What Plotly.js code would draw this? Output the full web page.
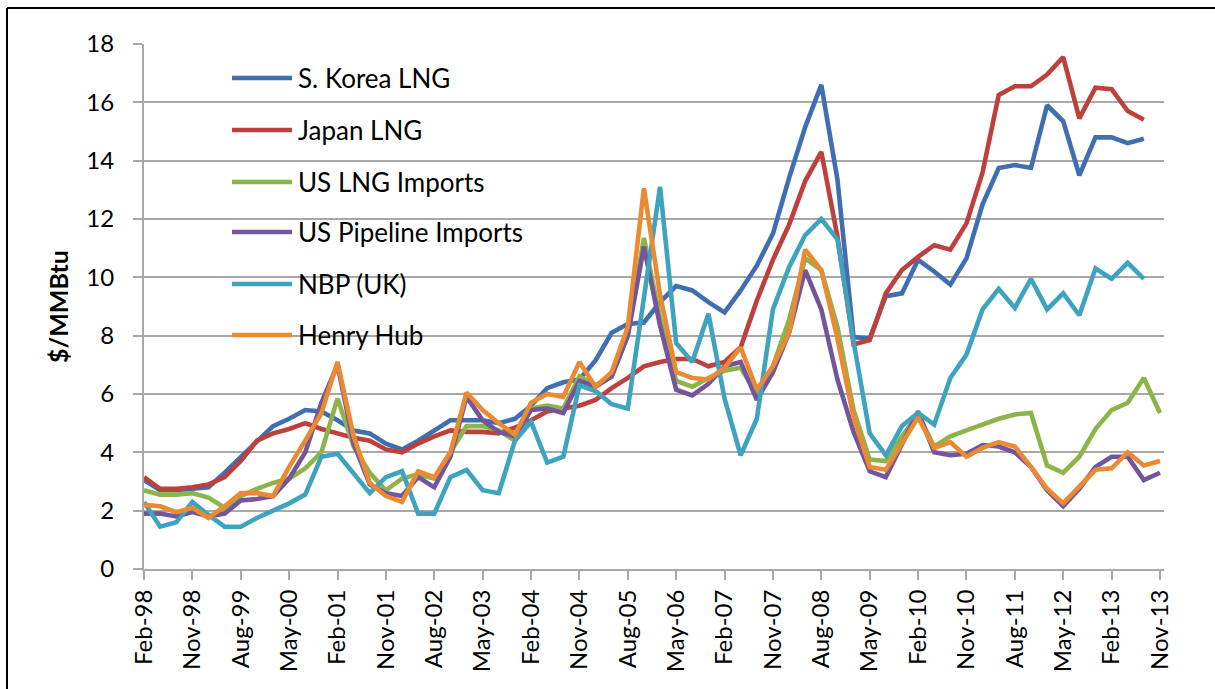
<!DOCTYPE html>
<html>
<head>
<meta charset="utf-8">
<script src="https://cdn.plot.ly/plotly-3.0.1.min.js"></script>
<style>
  html, body { margin: 0; padding: 0; background: #ffffff; }
  #chart { width: 1215px; height: 689px; }
</style>
</head>
<body>
<div id="chart"></div>
<script>
// ---- Data (quarterly, $/MMBtu) ----
const quarters = ["Feb-98","May-98","Aug-98","Nov-98","Feb-99","May-99","Aug-99","Nov-99",
  "Feb-00","May-00","Aug-00","Nov-00","Feb-01","May-01","Aug-01","Nov-01",
  "Feb-02","May-02","Aug-02","Nov-02","Feb-03","May-03","Aug-03","Nov-03",
  "Feb-04","May-04","Aug-04","Nov-04","Feb-05","May-05","Aug-05","Nov-05",
  "Feb-06","May-06","Aug-06","Nov-06","Feb-07","May-07","Aug-07","Nov-07",
  "Feb-08","May-08","Aug-08","Nov-08","Feb-09","May-09","Aug-09","Nov-09",
  "Feb-10","May-10","Aug-10","Nov-10","Feb-11","May-11","Aug-11","Nov-11",
  "Feb-12","May-12","Aug-12","Nov-12","Feb-13","May-13","Aug-13","Nov-13"];

const tickLabels = ["Feb-98","Nov-98","Aug-99","May-00","Feb-01","Nov-01","Aug-02","May-03",
  "Feb-04","Nov-04","Aug-05","May-06","Feb-07","Nov-07","Aug-08","May-09","Feb-10",
  "Nov-10","Aug-11","May-12","Feb-13","Nov-13"];

const seriesNames = ["S. Korea LNG","Japan LNG","US LNG Imports","US Pipeline Imports","NBP (UK)","Henry Hub"];

const koreaLNG = [3.05,2.7,2.7,2.75,2.8,3.3,3.85,4.4,4.9,5.15,5.45,5.4,5.1,4.75,4.65,4.3,
  4.1,4.4,4.75,5.1,5.1,5.1,5.0,5.15,5.6,6.2,6.4,6.5,7.15,8.1,8.4,8.45,
  9.15,9.7,9.55,9.15,8.8,9.55,10.4,11.5,13.4,15.15,16.6,13.35,7.95,7.9,9.35,9.45,
  10.6,10.2,9.75,10.65,12.5,13.75,13.85,13.75,15.9,15.35,13.5,14.8,14.8,14.6,14.75];

const japanLNG = [3.15,2.75,2.75,2.8,2.9,3.15,3.7,4.4,4.65,4.8,5.0,4.8,4.65,4.5,4.4,4.1,
  4.0,4.3,4.55,4.75,4.7,4.7,4.65,4.85,5.1,5.4,5.5,5.6,5.8,6.2,6.55,6.95,
  7.1,7.2,7.2,6.95,7.1,7.6,9.2,10.6,11.8,13.3,14.3,11.4,7.7,7.85,9.45,10.25,
  10.7,11.1,10.95,11.85,13.6,16.25,16.55,16.55,16.95,17.55,15.45,16.5,16.45,15.7,15.4];

const usLNGImports = [2.7,2.55,2.55,2.6,2.45,2.1,2.5,2.75,2.95,3.1,3.45,4.0,5.85,4.2,3.3,2.7,
  3.1,3.25,3.1,4.0,4.9,4.9,4.75,4.4,5.5,5.6,5.5,6.6,6.3,6.6,8.0,11.35,
  8.6,6.45,6.25,6.55,6.8,6.9,6.0,6.95,8.55,10.65,10.25,8.3,5.45,3.75,3.7,4.55,
  5.3,4.2,4.55,4.75,4.95,5.15,5.3,5.35,3.55,3.3,3.85,4.8,5.45,5.7,6.55,5.35];

const usPipelineImports = [1.9,1.9,1.8,1.95,1.8,1.9,2.35,2.4,2.5,3.1,4.0,5.7,7.0,4.3,2.9,2.6,
  2.5,3.15,2.8,3.85,5.9,5.1,4.7,4.55,5.45,5.5,5.35,6.45,6.25,6.6,8.0,11.05,
  8.35,6.15,5.95,6.35,6.95,7.1,5.8,6.75,8.1,10.25,8.9,6.5,4.7,3.35,3.15,4.3,
  5.4,4.0,3.9,3.95,4.25,4.2,4.0,3.5,2.7,2.15,2.75,3.5,3.85,3.85,3.05,3.3];

const nbpUK = [2.3,1.45,1.6,2.3,1.85,1.45,1.45,1.75,2.0,2.25,2.55,3.85,3.95,3.3,2.6,3.15,
  3.35,1.9,1.9,3.15,3.4,2.7,2.6,4.4,5.05,3.65,3.85,6.3,6.1,5.65,5.5,9.3,
  13.1,7.75,7.1,8.75,5.85,3.9,5.15,8.9,10.35,11.45,12.0,11.3,7.8,4.65,3.9,4.9,
  5.35,4.95,6.55,7.35,8.9,9.6,8.95,9.95,8.9,9.45,8.7,10.3,9.95,10.5,9.95];

const henryHub = [2.2,2.15,1.95,2.1,1.75,2.15,2.6,2.6,2.5,3.5,4.4,5.35,7.1,4.55,2.95,2.5,
  2.3,3.35,3.15,4.0,6.05,5.45,5.0,4.6,5.7,6.0,5.9,7.1,6.25,6.75,8.3,13.05,
  9.4,6.75,6.55,6.5,6.9,7.6,6.15,6.95,8.1,10.95,10.25,7.9,5.2,3.5,3.4,4.3,
  5.2,4.15,4.35,3.85,4.15,4.35,4.2,3.5,2.75,2.25,2.8,3.4,3.45,4.0,3.55,3.7];

const seriesValues = [koreaLNG, japanLNG, usLNGImports, usPipelineImports, nbpUK, henryHub];
const seriesColors = ["#3F6FB2","#BE403C","#8DB44B","#72559C","#3EA3BF","#EA8A33"];

// ---- Layout geometry (pixels) ----
const W = 1215, H = 689;
const M = {l: 144, r: 51, t: 44, b: 120};
const PW = W - M.l - M.r, PH = H - M.t - M.b;
const px = x => (x - M.l) / PW;
const py = y => 1 - (y - M.t) / PH;

const FONT = "Lato, 'Open Sans', 'DejaVu Sans', sans-serif";
const GRID = "#a8a8a8";

const traces = seriesValues.map((vals, k) => ({
  type: "scatter",
  mode: "lines",
  name: seriesNames[k],
  x: quarters.slice(0, vals.length),
  y: vals,
  line: {color: seriesColors[k], width: 4.6},
  showlegend: false,
  hoverinfo: "x+y+name"
}));

// custom legend (long line samples like the original)
const legendRows = [78, 130, 182, 232, 284, 335];
const shapes = [];
const annotations = [];
seriesNames.forEach((name, k) => {
  shapes.push({type: "line", xref: "paper", yref: "paper",
    x0: px(232), x1: px(292), y0: py(legendRows[k]), y1: py(legendRows[k]),
    line: {color: seriesColors[k], width: 4.5}});
  annotations.push({xref: "paper", yref: "paper", x: px(296), y: py(legendRows[k]),
    xanchor: "left", yanchor: "middle", showarrow: false, text: name,
    font: {family: FONT, size: 26, color: "#000000"}});
});

// outer frame (left and top edges)
shapes.push({type: "line", xref: "paper", yref: "paper", x0: px(7), x1: px(7), y0: py(8), y1: py(720),
  line: {color: "#000000", width: 2}});
shapes.push({type: "line", xref: "paper", yref: "paper", x0: px(7), x1: px(1240), y0: py(8), y1: py(8),
  line: {color: "#000000", width: 2}});

const layout = {
  width: W, height: H,
  margin: M,
  paper_bgcolor: "#ffffff",
  plot_bgcolor: "#ffffff",
  showlegend: false,
  font: {family: FONT, size: 24, color: "#000000"},
  xaxis: {
    type: "category",
    categoryorder: "array",
    categoryarray: quarters,
    range: [0, 63.25],
    tickmode: "array",
    tickvals: tickLabels,
    ticktext: tickLabels,
    tickangle: -90,
    ticks: "outside", ticklen: 9, tickwidth: 2, tickcolor: GRID,
    showline: true, linecolor: GRID, linewidth: 2,
    showgrid: false, zeroline: false,
    tickfont: {family: FONT, size: 24, color: "#000000"},
    fixedrange: true
  },
  yaxis: {
    range: [0, 18],
    dtick: 2, tick0: 0,
    ticks: "outside", ticklen: 9, tickwidth: 2, tickcolor: GRID,
    showline: true, linecolor: GRID, linewidth: 2,
    showgrid: true, gridcolor: GRID, gridwidth: 2,
    zeroline: false,
    ticklabelstandoff: 14,
    tickfont: {family: FONT, size: 24, color: "#000000"},
    title: {text: "<b>$/MMBtu</b>", standoff: 11, font: {family: FONT, size: 25, color: "#000000"}},
    automargin: false,
    fixedrange: true
  },
  shapes: shapes,
  annotations: annotations
};

Plotly.newPlot("chart", traces, layout, {displayModeBar: false, staticPlot: true});
</script>
</body>
</html>
